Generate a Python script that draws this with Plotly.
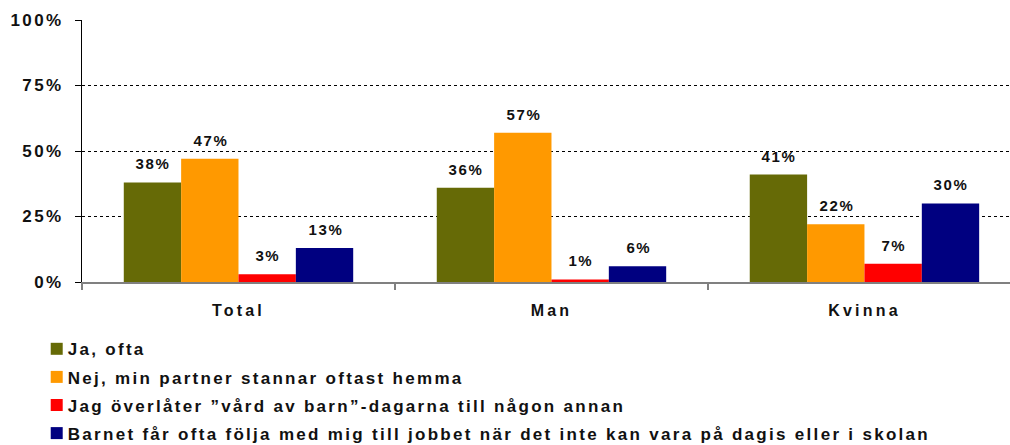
import plotly.graph_objects as go

categories = ["Total", "Man", "Kvinna"]
series_names = [
    "Ja, ofta",
    "Nej, min partner stannar oftast hemma",
    "Jag överlåter \u201dvård av barn\u201d-dagarna till någon annan",
    "Barnet får ofta följa med mig till jobbet när det inte kan vara på dagis eller i skolan",
]
values = [
    [38, 36, 41],
    [47, 57, 22],
    [3, 1, 7],
    [13, 6, 30],
]
colors = ["#666A06", "#FF9900", "#FF0000", "#000080"]
y_ticks = [0, 25, 50, 75, 100]
y_ticklabels = ["0%", "25%", "50%", "75%", "100%"]

FONT = "Liberation Sans"
TXT = "#111111"
bargap = 0.267
n = len(series_names)
bw = (1 - bargap) / n

fig = go.Figure()
for i, (name, vals, col) in enumerate(zip(series_names, values, colors)):
    fig.add_trace(go.Bar(
        name=name, x=categories, y=vals, marker_color=col,
        marker_line_width=0, legendgroup=f"g{i}",
    ))

annotations = []
for i, vals in enumerate(values):
    off = -(1 - bargap) / 2 + bw * (i + 0.5)
    for j, v in enumerate(vals):
        annotations.append(dict(
            x=j + off, y=v, xref="x", yref="y", text=f"{v}%",
            showarrow=False, yanchor="bottom", yshift=8, xshift=1,
            font=dict(family=FONT, size=15, color=TXT, weight="bold"),
        ))

fig.update_layout(
    width=1010, height=445,
    margin=dict(l=82, r=0, t=20, b=163, autoexpand=False),
    paper_bgcolor="white", plot_bgcolor="white",
    barmode="group", bargap=bargap, bargroupgap=0,
    showlegend=True,
    legend=dict(
        orientation="v", xref="paper", yref="paper",
        x=-0.0585, y=-0.646, xanchor="left", yanchor="bottom",
        font=dict(family=FONT, size=17, color=TXT, weight="bold"),
        traceorder="grouped", tracegroupgap=3,
        bgcolor="rgba(0,0,0,0)",
        itemclick=False, itemdoubleclick=False,
    ),
    xaxis=dict(
        type="category", range=[-0.5, 2.465],
        showgrid=False, showline=True, linecolor="#808080", linewidth=1.5,
        ticks="outside", tickson="boundaries", ticklen=6, tickcolor="#808080",
        tickwidth=1.5,
        tickfont=dict(family=FONT, size=16, color=TXT, weight="bold"),
        ticklabelstandoff=13,
    ),
    yaxis=dict(
        range=[0, 100], tickvals=y_ticks, ticktext=y_ticklabels,
        showgrid=True, gridcolor="black", griddash="dot", gridwidth=1.3,
        showline=True, linecolor="black", linewidth=1,
        ticks="outside", ticklen=6, tickcolor="black",
        zeroline=False,
        tickfont=dict(family=FONT, size=17, color=TXT, weight="bold"),
        ticklabelstandoff=8,
    ),
    annotations=annotations,
)

post = """
document.body.style.margin = '0';
document.documentElement.style.margin = '0';
var gd = document.getElementById('{plot_id}');
function applySpacing() {
  gd.querySelectorAll('.legendtext').forEach(function(e){ e.style.letterSpacing = '2.3px'; });
  gd.querySelectorAll('.ytick text').forEach(function(e){ e.style.letterSpacing = '2.4px'; });
  gd.querySelectorAll('.xtick text').forEach(function(e){ e.style.letterSpacing = '3.2px'; });
  gd.querySelectorAll('.annotation-text').forEach(function(e){ e.style.letterSpacing = '1.6px'; });
  gd.querySelectorAll('.legendpoints').forEach(function(e){ e.style.translate = '9px 0px'; });
  gd.querySelectorAll('.legend .scrollbox').forEach(function(e){ e.removeAttribute('clip-path'); });
  gd.querySelectorAll('.legend').forEach(function(e){ e.style.overflow = 'visible'; });
}
applySpacing();
gd.on('plotly_afterplot', applySpacing);
setTimeout(applySpacing, 50);
setTimeout(applySpacing, 300);
"""

fig.write_html("out.html", post_script=post, config={"displayModeBar": False})
